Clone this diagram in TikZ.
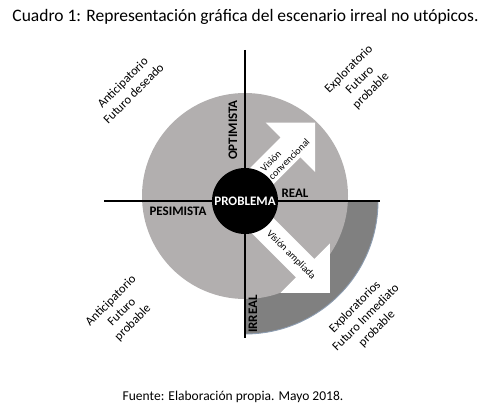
\documentclass[tikz,border=0pt]{standalone}
\usepackage{fontspec}
\setmainfont{Carlito}
\usetikzlibrary{positioning}
\definecolor{DiscLight}{HTML}{B2AFAF}
\definecolor{RingDark}{HTML}{808080}
\definecolor{RingEdge}{HTML}{8C9CB0}

\tikzset{
  axisline/.style={line width=1.6pt, black},
  cornerlbl/.style={font=\fontsize{12.5}{15.5}\selectfont, align=center, rotate=45},
  quadlbl/.style={font=\fontsize{13}{15}\selectfont\bfseries},
  arrowlbl/.style={font=\fontsize{10}{11.5}\selectfont},
}

\begin{document}
\begin{tikzpicture}[x=1pt, y=-1pt]
    \useasboundingbox (0,0) rectangle (486,409);
    \coordinate (o) at (245,201);

    % Dark ring, lower right quadrant
    \fill[RingDark] (o) -- (378,201) arc[start angle=0, end angle=90, radius=133] -- cycle;
    \draw[RingEdge, line width=0.9pt] (378,201) arc[start angle=0, end angle=90, radius=133];

    % Main disc
    \fill[DiscLight] (245,196) circle [radius=103];

    % Vision arrows
    \begin{scope}[shift={(o)}, rotate=45]
        \fill[white] (20,-19.7) -- (70,-19.7) -- (70,-40.7) -- (105,-5.7) -- (70,29.3) -- (70,8.3) -- (20,8.3) -- cycle;
    \end{scope}
    \begin{scope}[shift={(o)}, rotate=-45]
        \fill[white] (20,-8) -- (90,-8) -- (90,-30) -- (125,5) -- (90,40) -- (90,18) -- (20,18) -- cycle;
    \end{scope}

    % Axes
    \coordinate (xl) at (104,201);
    \coordinate (xr) at (380,201);
    \coordinate (yt) at (245,50);
    \coordinate (yb) at (245,338);
    \draw[axisline] (xl) -- (xr);
    \draw[axisline] (yt) -- (yb);

    % Problem circle
    \node[circle, fill=black, minimum size=66pt, inner sep=0pt, text=white,
          font=\fontsize{13}{15}\selectfont\bfseries] (problema) at (o) {PROBLEMA};

    % Axis labels
    \node[quadlbl, rotate=90] (optimista) at (233,130) {OPTIMISTA};
    \node[quadlbl] (real) at (295,193) {REAL};
    \node[quadlbl] (pesimista) at (178,211) {PESIMISTA};
    \node[quadlbl, rotate=90] (irreal) at (253,314) {IRREAL};

    % Arrow labels
    \node[arrowlbl, align=left, rotate=45] (convlbl) at (285,155) {Visión\\convencional};
    \node[arrowlbl, rotate=-45] (amplbl) at (291,255) {Visión ampliada};

    % Corner labels
    \node[cornerlbl] (antdeseado) at (128,88) {Anticipatorio\\Futuro deseado};
    \node[cornerlbl] (expprobable) at (360,80) {Exploratorio\\Futuro\\probable};
    \node[cornerlbl] (antprobable) at (122,312) {Anticipatorio\\Futuro\\probable};
    \node[cornerlbl] (expinmediato) at (366,318) {Exploratorios\\Futuro Inmediato\\probable};

    % Caption
    \node[anchor=base, font=\fontsize{17.5}{20}\selectfont] (titulo) at (245.5,21.7)
        {Cuadro 1: Representación gráfica del escenario irreal no utópicos.};
    \node[anchor=base, font=\fontsize{13.5}{16}\selectfont] (fuente) at (233,400)
        {Fuente: Elaboración propia. Mayo 2018.};
\end{tikzpicture}
\end{document}
